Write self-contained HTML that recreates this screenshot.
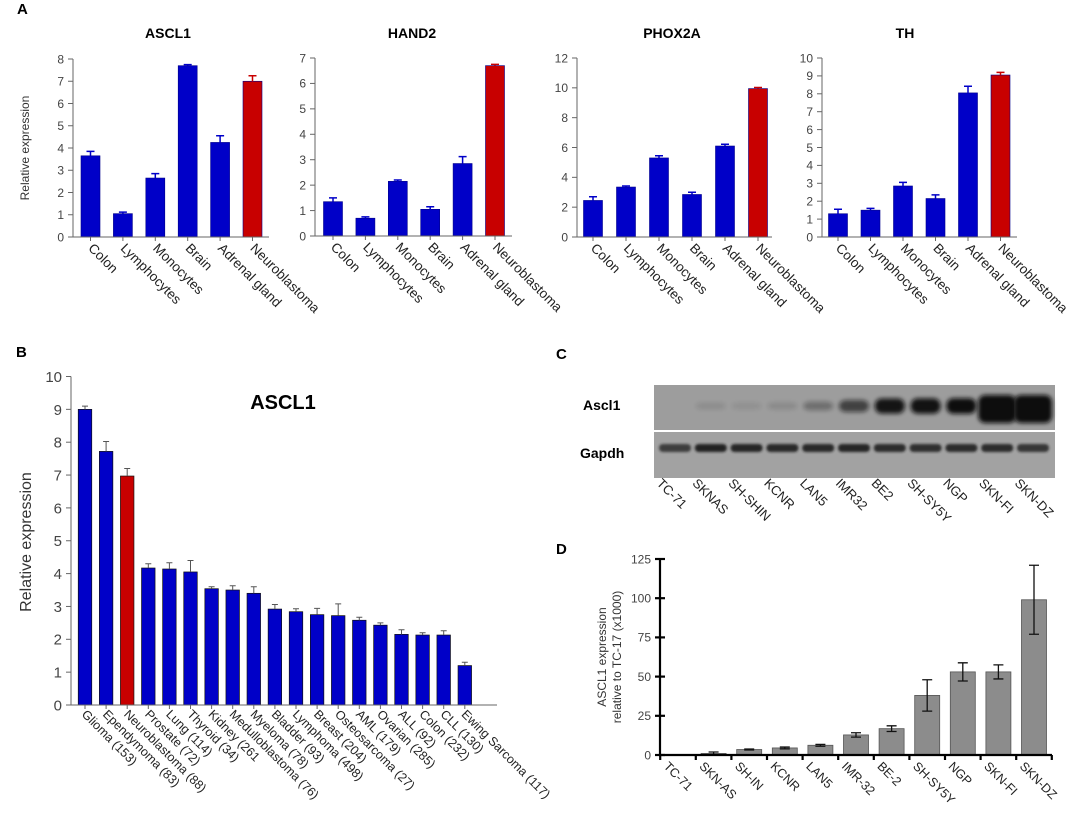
<!DOCTYPE html>
<html><head><meta charset="utf-8">
<style>
html,body{margin:0;padding:0;background:#fff;}
svg{display:block;font-family:"Liberation Sans",Arial,sans-serif;}
</style></head>
<body>
<svg id="fig" width="1078" height="840" viewBox="0 0 1078 840" xmlns="http://www.w3.org/2000/svg">
<defs>
<filter id="blur1" x="-50%" y="-100%" width="200%" height="300%"><feGaussianBlur stdDeviation="2"/></filter>
<filter id="blur2" x="-50%" y="-100%" width="200%" height="300%"><feGaussianBlur stdDeviation="1.2"/></filter>
</defs>
<text x="17" y="14" font-size="15" font-weight="bold">A</text>
<text x="16" y="357" font-size="15" font-weight="bold">B</text>
<text x="556" y="359" font-size="15" font-weight="bold">C</text>
<text x="556" y="554" font-size="15" font-weight="bold">D</text>
<text transform="translate(29,148) rotate(-90)" text-anchor="middle" font-size="12" fill="#333">Relative expression</text>
<text transform="translate(31,542) rotate(-90)" text-anchor="middle" font-size="16" fill="#333">Relative expression</text>
<text x="283" y="409" text-anchor="middle" font-size="20" font-weight="bold">ASCL1</text>
<text transform="translate(606,657) rotate(-90)" text-anchor="middle" font-size="12" fill="#333">ASCL1 expression</text>
<text transform="translate(621,657) rotate(-90)" text-anchor="middle" font-size="12" fill="#333">relative to TC-17 (x1000)</text>
<text x="583" y="410" font-size="14" font-weight="bold">Ascl1</text>
<text x="580" y="458" font-size="14" font-weight="bold">Gapdh</text>
<rect x="654" y="385" width="401" height="45" fill="#9d9d9d"/>
<rect x="654" y="432" width="401" height="46" fill="#a2a2a2"/>
</svg>
<script>
// Panel A data
const tissues = ["Colon","Lymphocytes","Monocytes","Brain","Adrenal gland","Neuroblastoma"];
const ascl1Vals = [3.65,1.05,2.65,7.7,4.25,7.0];
const ascl1Err = [0.2,0.07,0.2,0.05,0.3,0.25];
const hand2Vals = [1.35,0.7,2.15,1.05,2.85,6.7];
const hand2Err = [0.15,0.05,0.05,0.1,0.27,0.05];
const phox2aVals = [2.45,3.35,5.3,2.85,6.1,9.95];
const phox2aErr = [0.25,0.07,0.15,0.15,0.12,0.07];
const thVals = [1.3,1.5,2.85,2.15,8.05,9.05];
const thErr = [0.25,0.1,0.2,0.2,0.37,0.15];
const ascl1Ticks = [0,1,2,3,4,5,6,7,8];
const hand2Ticks = [0,1,2,3,4,5,6,7];
const phox2aTicks = [0,2,4,6,8,10,12];
const thTicks = [0,1,2,3,4,5,6,7,8,9,10];
// Panel B data
const tumors = ["Glioma (153)","Ependymoma (83)","Neuroblastoma (88)","Prostate (72)","Lung (114)","Thyroid (34)","Kidney (261","Medulloblastoma (76)","Myeloma (78)","Bladder (93)","Lymphoma (498)","Breast (204)","Osteosarcoma (27)","AML (179)","Ovarian (285)","ALL (92)","Colon (232)","CLL (130)","Ewing Sarcoma (117)"];
const tumorVals = [9.0,7.72,6.97,4.17,4.14,4.05,3.54,3.5,3.4,2.92,2.84,2.75,2.72,2.58,2.43,2.15,2.13,2.13,1.2];
const tumorErr = [0.1,0.3,0.23,0.13,0.19,0.35,0.06,0.13,0.2,0.14,0.09,0.19,0.36,0.09,0.07,0.14,0.07,0.13,0.1];
const tumorTicks = [0,1,2,3,4,5,6,7,8,9,10];
// Panel C data
const blotLanes = ["TC-71","SKNAS","SH-SHIN","KCNR","LAN5","IMR32","BE2","SH-SY5Y","NGP","SKN-FI","SKN-DZ"];
const ascl1Band = [0,0.1,0.08,0.12,0.3,0.6,0.9,0.92,0.95,1.0,1.0];
const gapdhBand = [0.75,0.95,0.92,0.9,0.9,0.92,0.88,0.85,0.88,0.88,0.8];
// Panel D data
const cellLines = ["TC-71","SKN-AS","SH-IN","KCNR","LAN5","IMR-32","BE-2","SH-SY5Y","NGP","SKN-FI","SKN-DZ"];
const cellVals = [0,1,3.5,4.5,6.2,12.8,16.8,38,53,53,99];
const cellErr = [0,0.9,0.3,0.6,0.6,1.4,1.8,10,5.8,4.5,22];
const cellTicks = [0,25,50,75,100,125];

const svg = document.getElementById('fig');
const NS = 'http://www.w3.org/2000/svg';
function mk(tag, attrs, parent){
  const e = document.createElementNS(NS, tag);
  for (const k in attrs) e.setAttribute(k, attrs[k]);
  (parent||svg).appendChild(e);
  return e;
}

function barChart(cfg){
  const g = mk('g', {});
  
  
  const max = cfg.ticks[cfg.ticks.length-1];
  const y = v => cfg.y0 - (v/max)*(cfg.y0-cfg.yTop);
  const x = i => cfg.x0c + i*cfg.step;
  if (cfg.title){
    const t = mk('text', {x:cfg.titleX, y:cfg.titleY, 'text-anchor':'middle', 'font-size':cfg.titleSize, 'font-weight':'bold'}, g);
    t.textContent = cfg.title;
    
    
  }
  cfg.vals.forEach((v,i)=>{
    const col = cfg.colorFn(i);
    const bar = mk('rect', {x:x(i)-cfg.bw/2, y:y(v), width:cfg.bw, height:cfg.y0-y(v), fill:col, stroke:cfg.barStroke, 'stroke-width':cfg.barStrokeW}, g);
    
    
    const e = cfg.err[i];
    if (e>0){
      const ec = cfg.errColor || col;
      const lo = cfg.twoSided ? v-e : v;
      const eb = mk('path', {d:`M${x(i)},${y(lo)}V${y(v+e)}M${x(i)-cfg.cap},${y(v+e)}H${x(i)+cfg.cap}`+(cfg.twoSided?`M${x(i)-cfg.cap},${y(v-e)}H${x(i)+cfg.cap}`:''), stroke:ec, 'stroke-width':cfg.errW, fill:'none'}, g);
      
      
    }
    const lx = x(i)+cfg.labDx, ly = cfg.y0+cfg.labDy;
    const lab = mk('text', {transform:`translate(${lx},${ly}) rotate(45)`, 'font-size':cfg.labSize, fill:'#222'}, g);
    lab.textContent = cfg.cats[i];
    
    
    if (cfg.xTicks){
      const tx = x(i) + (cfg.tickBetween ? -cfg.step/2 : 0);
      mk('line', {x1:tx, x2:tx, y1:cfg.y0, y2:cfg.y0+cfg.xTickLen, stroke:cfg.axisColor, 'stroke-width':cfg.axisW}, g);
    }
  });
  if (cfg.tickBetween){
    const tx = x(cfg.vals.length-1)+cfg.step/2;
    mk('line', {x1:tx, x2:tx, y1:cfg.y0, y2:cfg.y0+cfg.xTickLen, stroke:cfg.axisColor, 'stroke-width':cfg.axisW}, g);
  }
  cfg.ticks.forEach(t=>{
    mk('line', {x1:cfg.ax-cfg.tickLen, x2:cfg.ax+(cfg.tickIn||0), y1:y(t), y2:y(t), stroke:cfg.axisColor, 'stroke-width':cfg.axisW}, g);
    const tl = mk('text', {x:cfg.ax-cfg.tickLen-4, y:y(t)+cfg.tickSize*0.36, 'text-anchor':'end', 'font-size':cfg.tickSize, fill:'#444'}, g);
    tl.textContent = t;
    
    
  });
  const ax = mk('path', {d:`M${cfg.ax},${cfg.yTop}V${cfg.y0}H${cfg.xEnd}`, stroke:cfg.axisColor, 'stroke-width':cfg.axisW, fill:'none'}, g);
  
  
}

const blue = '#0000c8', red = '#c80000';
const aCommon = {bw:19, cap:4, errW:1.5, barStroke:'#00008a', barStrokeW:0.6, labDx:-3, labDy:12, labSize:13.5, tickLen:5, tickSize:12, axisColor:'#666', axisW:1, xTicks:true, xTickLen:4, titleY:38, titleSize:14,
  colorFn: i => i===5 ? red : blue};
barChart(Object.assign({}, aCommon, {name:'chart-ascl1', title:'ASCL1', titleX:168, cats:tissues, vals:ascl1Vals, err:ascl1Err, ticks:ascl1Ticks, ax:73, y0:237, yTop:59, x0c:90.5, step:32.4, xEnd:269}));
barChart(Object.assign({}, aCommon, {name:'chart-hand2', title:'HAND2', titleX:412, cats:tissues, vals:hand2Vals, err:hand2Err, ticks:hand2Ticks, ax:315, y0:236, yTop:58, x0c:333, step:32.4, xEnd:512}));
barChart(Object.assign({}, aCommon, {name:'chart-phox2a', title:'PHOX2A', titleX:672, cats:tissues, vals:phox2aVals, err:phox2aErr, ticks:phox2aTicks, ax:577, y0:237, yTop:58, x0c:593, step:33, xEnd:772}));
barChart(Object.assign({}, aCommon, {name:'chart-th', title:'TH', titleX:905, cats:tissues, vals:thVals, err:thErr, ticks:thTicks, ax:822, y0:237, yTop:58, x0c:838, step:32.5, xEnd:1017}));

barChart({name:'chart-tumors', cats:tumors, vals:tumorVals, err:tumorErr, ticks:tumorTicks, ax:71, y0:705, yTop:376.5, x0c:85, step:21.1, xEnd:497, bw:13.5, cap:3, errW:1, barStroke:'#111', barStrokeW:0.7, errColor:'#555',
  labDx:-4, labDy:10, labSize:12.5, tickLen:5, tickSize:15, axisColor:'#666', axisW:1, xTicks:true, xTickLen:4, colorFn: i => i===2 ? red : blue});

barChart({name:'chart-cell-lines', cats:cellLines, vals:cellVals, err:cellErr, ticks:cellTicks, ax:660, y0:755, yTop:559, x0c:678, step:35.6, xEnd:1052, bw:25, cap:5, errW:1.3, barStroke:'#555', barStrokeW:0.8, errColor:'#111', twoSided:true,
  labDx:-15, labDy:12, labSize:12.5, tickLen:5, tickIn:5, tickSize:12, axisColor:'#000', axisW:2.2, xTicks:true, tickBetween:true, xTickLen:5, colorFn: () => '#8c8c8c'});

// Blot bands
const laneX = i => 675 + i*35.8;
blotLanes.forEach((name,i)=>{
  const a = ascl1Band[i];
  if (a>0){
    const big = a>=1 && i>=9;
    const band = mk('rect', {x:laneX(i)-(big?19:15), y: big?395:403-a*5, width: big?38:30, height: big?28:6+a*10, rx:7, fill:'#111', opacity:Math.min(1,a*1.05), filter:'url(#blur1)'});
    
    
  }
  const g2 = gapdhBand[i];
  const gb = mk('rect', {x:laneX(i)-16, y:444, width:32, height:8, rx:4, fill:'#1a1a1a', opacity:g2, filter:'url(#blur2)'});
  
  
  const lab = mk('text', {transform:`translate(${laneX(i)-19},${484}) rotate(45)`, 'font-size':13, fill:'#222'});
  lab.textContent = name;
  
  
});
</script>
</body></html>
